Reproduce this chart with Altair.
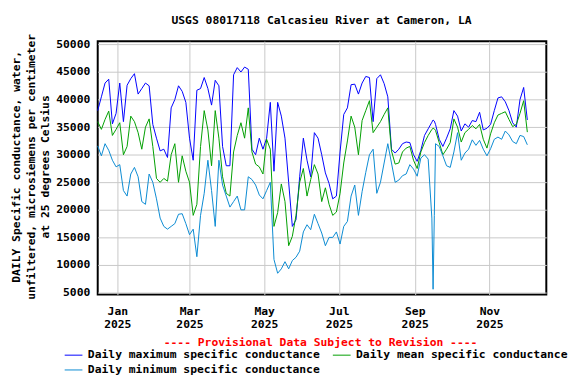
import altair as alt
import pandas as pd

# Day offsets from 2025-01-01 (sampled every 3 days, plus the spike days)
days = sorted(list(range(-16, 336, 3)) + [258, 259])

max_vals = [
    38000, 40500, 43000, 43700, 35600, 37500, 43000, 36000, 42600, 43800, 44700, 41000, 42000, 43000, 42500, 35500, 33000, 30700, 31000, 29500, 38500,
    40000, 42500, 41500, 39500, 33000, 29000, 41700, 42000, 44000, 42000, 39000, 43500, 42500, 31500, 28000, 28000, 44500, 45800, 45000, 45900, 45500,
    31000, 30000, 33000, 31000, 33000, 39500, 27000, 39500, 37000, 33000, 25000, 17000, 18200, 26000, 33000, 29000, 26000, 34000, 33000, 30000,
    26700, 24800, 22000, 22500, 30500, 37300, 38500, 42700, 42800, 41000, 43000, 44200, 44000, 36000, 43800, 44500, 42900, 40500, 31000, 30300,
    31000, 32000, 32300, 32200, 30000, 28800, 30800, 33500, 34700, 35900, 36300, 36100,
    35500, 32800, 31500, 33000, 34700, 38000, 37000, 34300, 35600, 35000,
    36200, 36000, 37700, 34500, 34800, 35500, 38000, 40300, 40500, 39600, 38000, 35800, 35000, 40000, 42200, 36300,
]
mean_vals = [
    36000, 34600, 36400, 37900, 33500, 34600, 35800, 30000, 31500, 37000, 36000, 34000, 31000, 35000, 36500, 31500, 25700, 25000, 25700, 25200, 30000,
    32000, 25000, 29800, 27000, 25000, 19000, 21000, 31500, 38000, 34500, 28000, 38000, 33000, 26000, 23000, 22500, 30500, 33500, 35800, 33000, 38500,
    30500, 28300, 27800, 26500, 32800, 31000, 17000, 19500, 24700, 21500, 13500, 15200, 19000, 25000, 27500, 22500, 25500, 28200, 26500, 21500,
    24000, 21000, 19000, 19600, 23000, 28500, 32500, 37000, 35000, 30000, 36200, 38000, 39800, 34000, 35000, 36000, 37300, 38500, 30700, 28300,
    28500, 30500, 31200, 31500, 29000, 27500, 30500, 32200, 33500, 34600, 34800, 34700,
    34400, 32200, 30000, 31000, 32200, 36500, 35000, 32300, 34000, 34600,
    35300, 34700, 35500, 32800, 31200, 33800, 35800, 37200, 37500, 37800, 36400, 35100, 35500, 37500, 39800, 34100,
]
min_vals = [
    31600, 29800, 32000, 30800, 29000, 27800, 28200, 23500, 22500, 26500, 27700, 26000, 21500, 21000, 26500, 25000, 22000, 18500, 17000, 16500, 17000,
    17500, 19200, 19300, 17500, 15500, 16500, 11500, 19000, 23000, 29000, 23500, 17000, 29000, 24500, 22500, 20500, 21500, 22500, 20000, 20000, 26000,
    25500, 24500, 22700, 22000, 23500, 25000, 11000, 8500, 9300, 10600, 9300, 10800, 11400, 12500, 16000, 17300, 16400, 19200, 17500, 15800,
    13500, 15000, 15000, 16000, 13800, 17000, 17900, 22500, 24500, 19000, 23300, 26800, 30000, 31000, 23000, 25000, 28500, 32000, 28500, 25000,
    25400, 26200, 26500, 28200, 27400, 26100, 29400, 30000, 29200, 18500, 5600, 19000,
    32000, 31500, 29800, 28000, 27700, 30500, 34000, 29000, 30300, 31000,
    32700, 31700, 32600, 31000, 29800, 31100, 32800, 33200, 32800, 34300, 33600, 32400, 32000, 33500, 33300, 31800,
]

series_names = [
    "Daily maximum specific conductance",
    "Daily mean specific conductance",
    "Daily minimum specific conductance",
]
series_colors = ["#0000ff", "#009e00", "#0a8ad2"]
y_ticks = [5000, 10000, 15000, 20000, 25000, 30000, 35000, 40000, 45000, 50000]
tick_months = [1, 3, 5, 7, 9, 11]
title_text = "USGS 08017118 Calcasieu River at Cameron, LA"
y_title = [
    "DAILY Specific conductance, water,",
    "unfiltered, microsiemens per centimeter",
    "at 25 degrees Celsius",
]
provisional = "---- Provisional Data Subject to Revision ----"

base = pd.Timestamp("2025-01-01")
dates = [(base + pd.Timedelta(days=d)).strftime("%Y-%m-%d") for d in days]
rows = []
for name, vals in zip(series_names, [max_vals, mean_vals, min_vals]):
    for dt, v in zip(dates, vals):
        rows.append({"date": dt, "value": v, "series": name})
df = pd.DataFrame(rows)

FONT = "DejaVu Sans Mono"
FS = 11.5

lines = alt.Chart(df).mark_line(strokeWidth=1).encode(
    x=alt.X(
        "date:T",
        title=None,
        scale=alt.Scale(
            type="utc",
            domain=[
                alt.DateTime(year=2024, month=12, date=16, utc=True),
                alt.DateTime(year=2025, month=12, date=17, hours=12, utc=True),
            ],
        ),
        axis=alt.Axis(
            values=[alt.DateTime(year=2025, month=m, date=1, utc=True) for m in tick_months],
            labelExpr="[utcFormat(datum.value, '%b'), utcFormat(datum.value, '%Y')]",
            labelPadding=11,
            labelLineHeight=13,
            labelFlush=False,
            labelAlign="center",
        ),
    ),
    y=alt.Y(
        "value:Q",
        scale=alt.Scale(domain=[4640, 50600], nice=False, zero=False),
        axis=alt.Axis(
            values=y_ticks,
            format="d",
            labelPadding=8,
            title=y_title,
            titleFont=FONT,
            titleFontSize=FS,
            titleFontWeight="bold",
            titleColor="black",
            titleAngle=270,
            titleAlign="center",
            titleBaseline="middle",
            titleLineHeight=14.5,
            titleX=-82,
            titleY=127,
        ),
    ),
    color=alt.Color(
        "series:N",
        scale=alt.Scale(domain=series_names, range=series_colors),
        legend=alt.Legend(
            title=None,
            orient="none",
            direction="horizontal",
            legendX=-34,
            legendY=309,
            columns=2,
            symbolType="stroke",
            symbolSize=324,
            symbolStrokeWidth=1,
            labelFont=FONT,
            labelFontSize=FS,
            labelFontWeight="bold",
            labelColor="black",
            labelOffset=5,
            labelLimit=400,
            columnPadding=10,
            rowPadding=0,
        ),
    ),
)

title_layer = alt.Chart(pd.DataFrame({"t": [title_text]})).mark_text(
    font=FONT, fontSize=FS, fontWeight="bold", color="black", align="center", baseline="middle"
).encode(text="t:N", x=alt.value(227), y=alt.value(-20))

prov = alt.Chart(pd.DataFrame({"t": [provisional]})).mark_text(
    font=FONT, fontSize=FS, fontWeight="bold", color="red", align="center", baseline="middle"
).encode(text="t:N", x=alt.value(226), y=alt.value(306))

chart = alt.layer(lines, title_layer, prov).properties(
    width=455,
    height=257,
    autosize=alt.AutoSizeParams(type="none"),
    padding={"left": 91, "top": 31, "right": 22, "bottom": 80},
).configure_view(
    stroke="black", strokeWidth=2
).configure_axis(
    gridColor="#c8c8c8",
    gridWidth=1,
    domain=False,
    ticks=False,
    tickSize=0,
    labelFont=FONT,
    labelFontSize=FS,
    labelFontWeight="bold",
    labelColor="black",
)

chart.save("out.html", embed_options={"renderer": "svg", "actions": False})
